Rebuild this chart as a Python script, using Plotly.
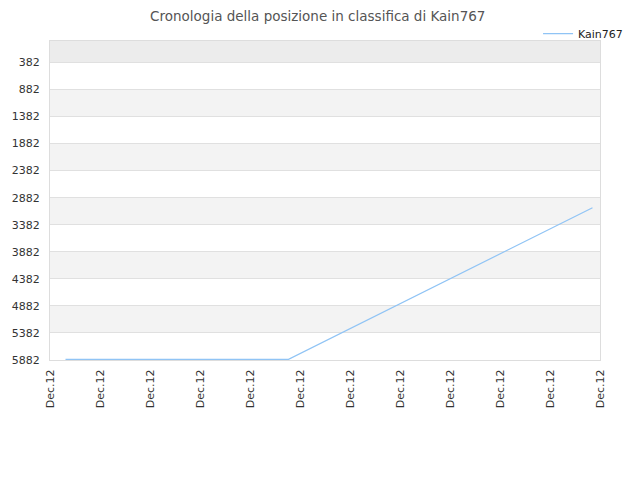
import plotly.graph_objects as go

# Dati
giorni = [0.31, 4.77, 10.85]
posizioni = [5870, 5870, 3068]
etichette_x = ['Dec.12'] * 12
tick_y = [382, 882, 1382, 1882, 2382, 2882, 3382, 3882, 4382, 4882, 5382, 5882]

fig = go.Figure()
fig.add_trace(go.Scatter(x=giorni, y=posizioni, mode='lines', name='Kain767',
                         line=dict(color='#90c4f5', width=1.2)))

# Bande alternate di sfondo
limiti = [-14] + tick_y
for i in range(len(limiti) - 1):
    if i % 2 == 0:
        colore = '#ececec' if i == 0 else '#f3f3f3'
        fig.add_shape(type='rect', xref='paper', yref='y', x0=0, x1=1,
                      y0=limiti[i], y1=limiti[i + 1], fillcolor=colore,
                      line=dict(width=0), layer='below')

fig.update_layout(
    width=640, height=480,
    margin=dict(l=42, r=48, t=32, b=128),
    paper_bgcolor='white', plot_bgcolor='white',
    font=dict(family='DejaVu Sans', size=11, color='#333'),
    title=dict(text='Cronologia della posizione in classifica di Kain767', x=0.484, y=0.983,
               xanchor='center', yanchor='middle', font=dict(size=13.5, color='#555')),
    showlegend=True,
    legend=dict(x=1.051, y=1.065, xanchor='right', yanchor='top', bgcolor='rgba(0,0,0,0)',
                font=dict(size=11, color='#222')),
    xaxis=dict(range=[0, 11], tickvals=list(range(12)), ticktext=etichette_x,
               tickangle=-90, showgrid=False, zeroline=False, ticks='', ticklabelstandoff=4,
               showline=True, linecolor='#dddddd', mirror=True, automargin=False,
               tickfont=dict(size=11, color='#333')),
    yaxis=dict(range=[5882, -14], tickvals=tick_y, showgrid=True, gridcolor='#e0e0e0',
               zeroline=False, ticks='', ticklabelstandoff=7, showline=True,
               linecolor='#dddddd', mirror=True, automargin=False,
               tickfont=dict(size=11, color='#333')),
)

fig.write_html('out.html')
